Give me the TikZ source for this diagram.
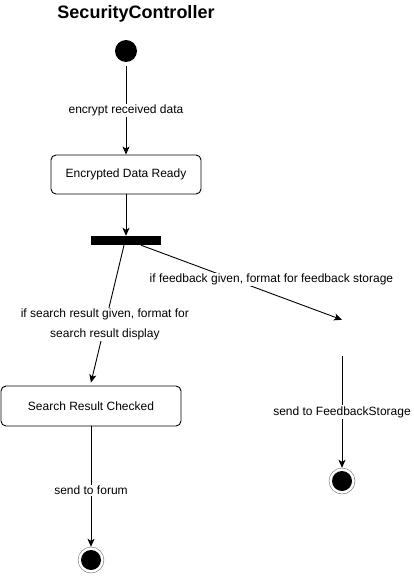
\documentclass[tikz,border=0pt]{standalone}
\usepackage{fontspec}
\setmainfont{Liberation Sans}
\usetikzlibrary{arrows.meta}
\tikzset{
	state/.style={draw, line width=0.9pt, rounded corners=.5em, minimum height=39pt, font=\fontsize{12}{14}\selectfont},
	edgelabel/.style={fill=white, inner sep=1pt, align=center, font=\fontsize{12}{20}\selectfont},
	flow/.style={-{Stealth[length=8pt, width=7pt, inset=2pt]}, line width=0.9pt}
}
\begin{document}
\begin{tikzpicture}[x=1pt, y=-1pt]
		\useasboundingbox (0,0) rectangle (413,578);
		\node (title) at (136,14) {\fontsize{18}{20}\selectfont\bfseries SecurityController};
		\node (start) [circle, fill=black, inner sep=0pt, minimum size=22pt] at (126,51) {};
		\node (encrypted) [state, minimum width=150pt] at (126,174.5) {Encrypted Data Ready};
		\node (fork) [fill=black, inner sep=0pt, minimum width=70pt, minimum height=9pt] at (126,240.5) {};
		\node (checked) [state, minimum width=180pt, minimum height=40pt] at (91,406) {Search Result Checked};
		\node (feedback) [inner sep=0pt, minimum width=20pt, minimum height=38pt] at (342,337) {};
		\node (endforum) [circle, draw=black!60, inner sep=0pt, minimum size=26pt] at (91,560) {};
		\node [circle, fill=black, inner sep=0pt, minimum size=20pt] at (endforum) {};
		\node (endstore) [circle, draw=black!60, inner sep=0pt, minimum size=26pt] at (342,481) {};
		\node [circle, fill=black, inner sep=0pt, minimum size=20pt] at (endstore) {};
		\draw [flow] ([yshift=-4pt]start.south) -- node [edgelabel, pos=0.5] {encrypt received data} (encrypted.north);
		\draw [flow] (encrypted.south) -- (fork.north);
		\draw [flow] ([xshift=-2pt]fork.south) -- node [edgelabel, pos=0.58] {if search result given, format for\\search result display} ([yshift=3pt]checked.north);
		\draw [flow] ([xshift=15pt]fork.south) -- node [edgelabel, pos=0.46, xshift=38pt] {if feedback given, format for feedback storage} ([yshift=-2pt]feedback.north);
		\draw [flow] (checked.south) -- node [edgelabel, pos=0.53] {send to forum} (endforum.north);
		\draw [flow] (feedback.south) -- node [edgelabel, pos=0.5] {send to FeedbackStorage} (endstore.north);
	\end{tikzpicture}
\end{document}
